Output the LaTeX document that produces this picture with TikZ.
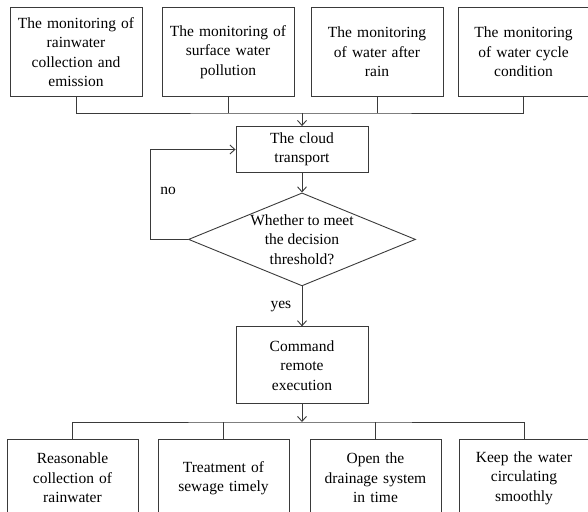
\documentclass[tikz,border=0pt]{standalone}
\usepackage{fontspec}
\setmainfont{Liberation Serif}
\usetikzlibrary{arrows.meta,positioning,shapes.geometric}
\definecolor{edge}{HTML}{3A3A3A}

\begin{document}
\begin{tikzpicture}[x=1pt,y=-1pt,
  box/.style={draw=edge,line width=0.9pt,minimum width=132pt,minimum height=89pt,
              text width=126pt,align=center,inner sep=2pt,
              font=\fontsize{15.5}{19.5}\selectfont},
  dec/.style={draw=edge,diamond,aspect=2.44,line width=0.9pt,inner sep=-3pt,
              minimum width=227pt,minimum height=93pt,align=center,
              font=\fontsize{15.5}{19.5}\selectfont},
  lbl/.style={font=\fontsize{15.5}{19.5}\selectfont},
  ar/.style={-{Straight Barb[length=5pt,width=9pt]},line width=0.9pt,draw=edge},
  ln/.style={line width=0.9pt,draw=edge}]
\useasboundingbox (0,0) rectangle (588,511);
\clip (0,0) rectangle (588,511);
% sensing row
\node[box] (rain) at (76,52) {The monitoring of\\rainwater\\collection and\\emission};
\node[box] (surf) at (228,52) {The monitoring of\\surface water\\pollution};
\node[box] (after) at (377,52) {The monitoring\\of water after\\rain};
\node[box,minimum width=127pt] (cycle) at (523.5,52) {The monitoring\\of water cycle\\condition};
\node[box,minimum height=46pt] (cloud) at (302,149.5) {The cloud\\transport};
\node[dec,below=19.5pt of cloud] (thr) {Whether to meet\\the decision\\threshold?};
\node[box,minimum height=77pt,below=40pt of thr] (cmd) {Command\\remote\\execution};
% action row
\node[box,minimum width=131pt,minimum height=78pt] (collect) at (72.5,478) {Reasonable\\collection of\\rainwater};
\node[box,minimum width=131pt,minimum height=78pt] (sewage) at (223.5,478) {Treatment of\\sewage timely};
\node[box,minimum width=131pt,minimum height=78pt] (drain) at (375.5,478) {Open the\\drainage system\\in time};
\node[box,minimum width=128pt,minimum height=78pt] (flow) at (524,478) {Keep the water\\circulating\\smoothly};
\coordinate (bus) at (302,113);
\coordinate (fork) at (302,422);
\draw[ln] (rain.south) |- (bus) -| (cycle.south);
\draw[ln] (surf.south) -- (surf.south |- bus);
\draw[ln] (after.south) -- (after.south |- bus);
\draw[ar] (bus) -- (cloud.north);
\draw[ar] (cloud.south) -- (thr.north);
\draw[ar] (thr.west) -- ++(-38,0) |- (cloud.west);
\node[lbl] (no) at (168,191) {no};
\draw[ar] (thr.south) -- node[lbl,left=7pt] (yes) {yes} (cmd.north);
\draw[ar] (cmd.south) -- (fork);
\draw[ln] (collect.north) |- (fork) -| (flow.north);
\draw[ln] (sewage.north) -- (sewage.north |- fork);
\draw[ln] (drain.north) -- (drain.north |- fork);
\end{tikzpicture}
\end{document}
